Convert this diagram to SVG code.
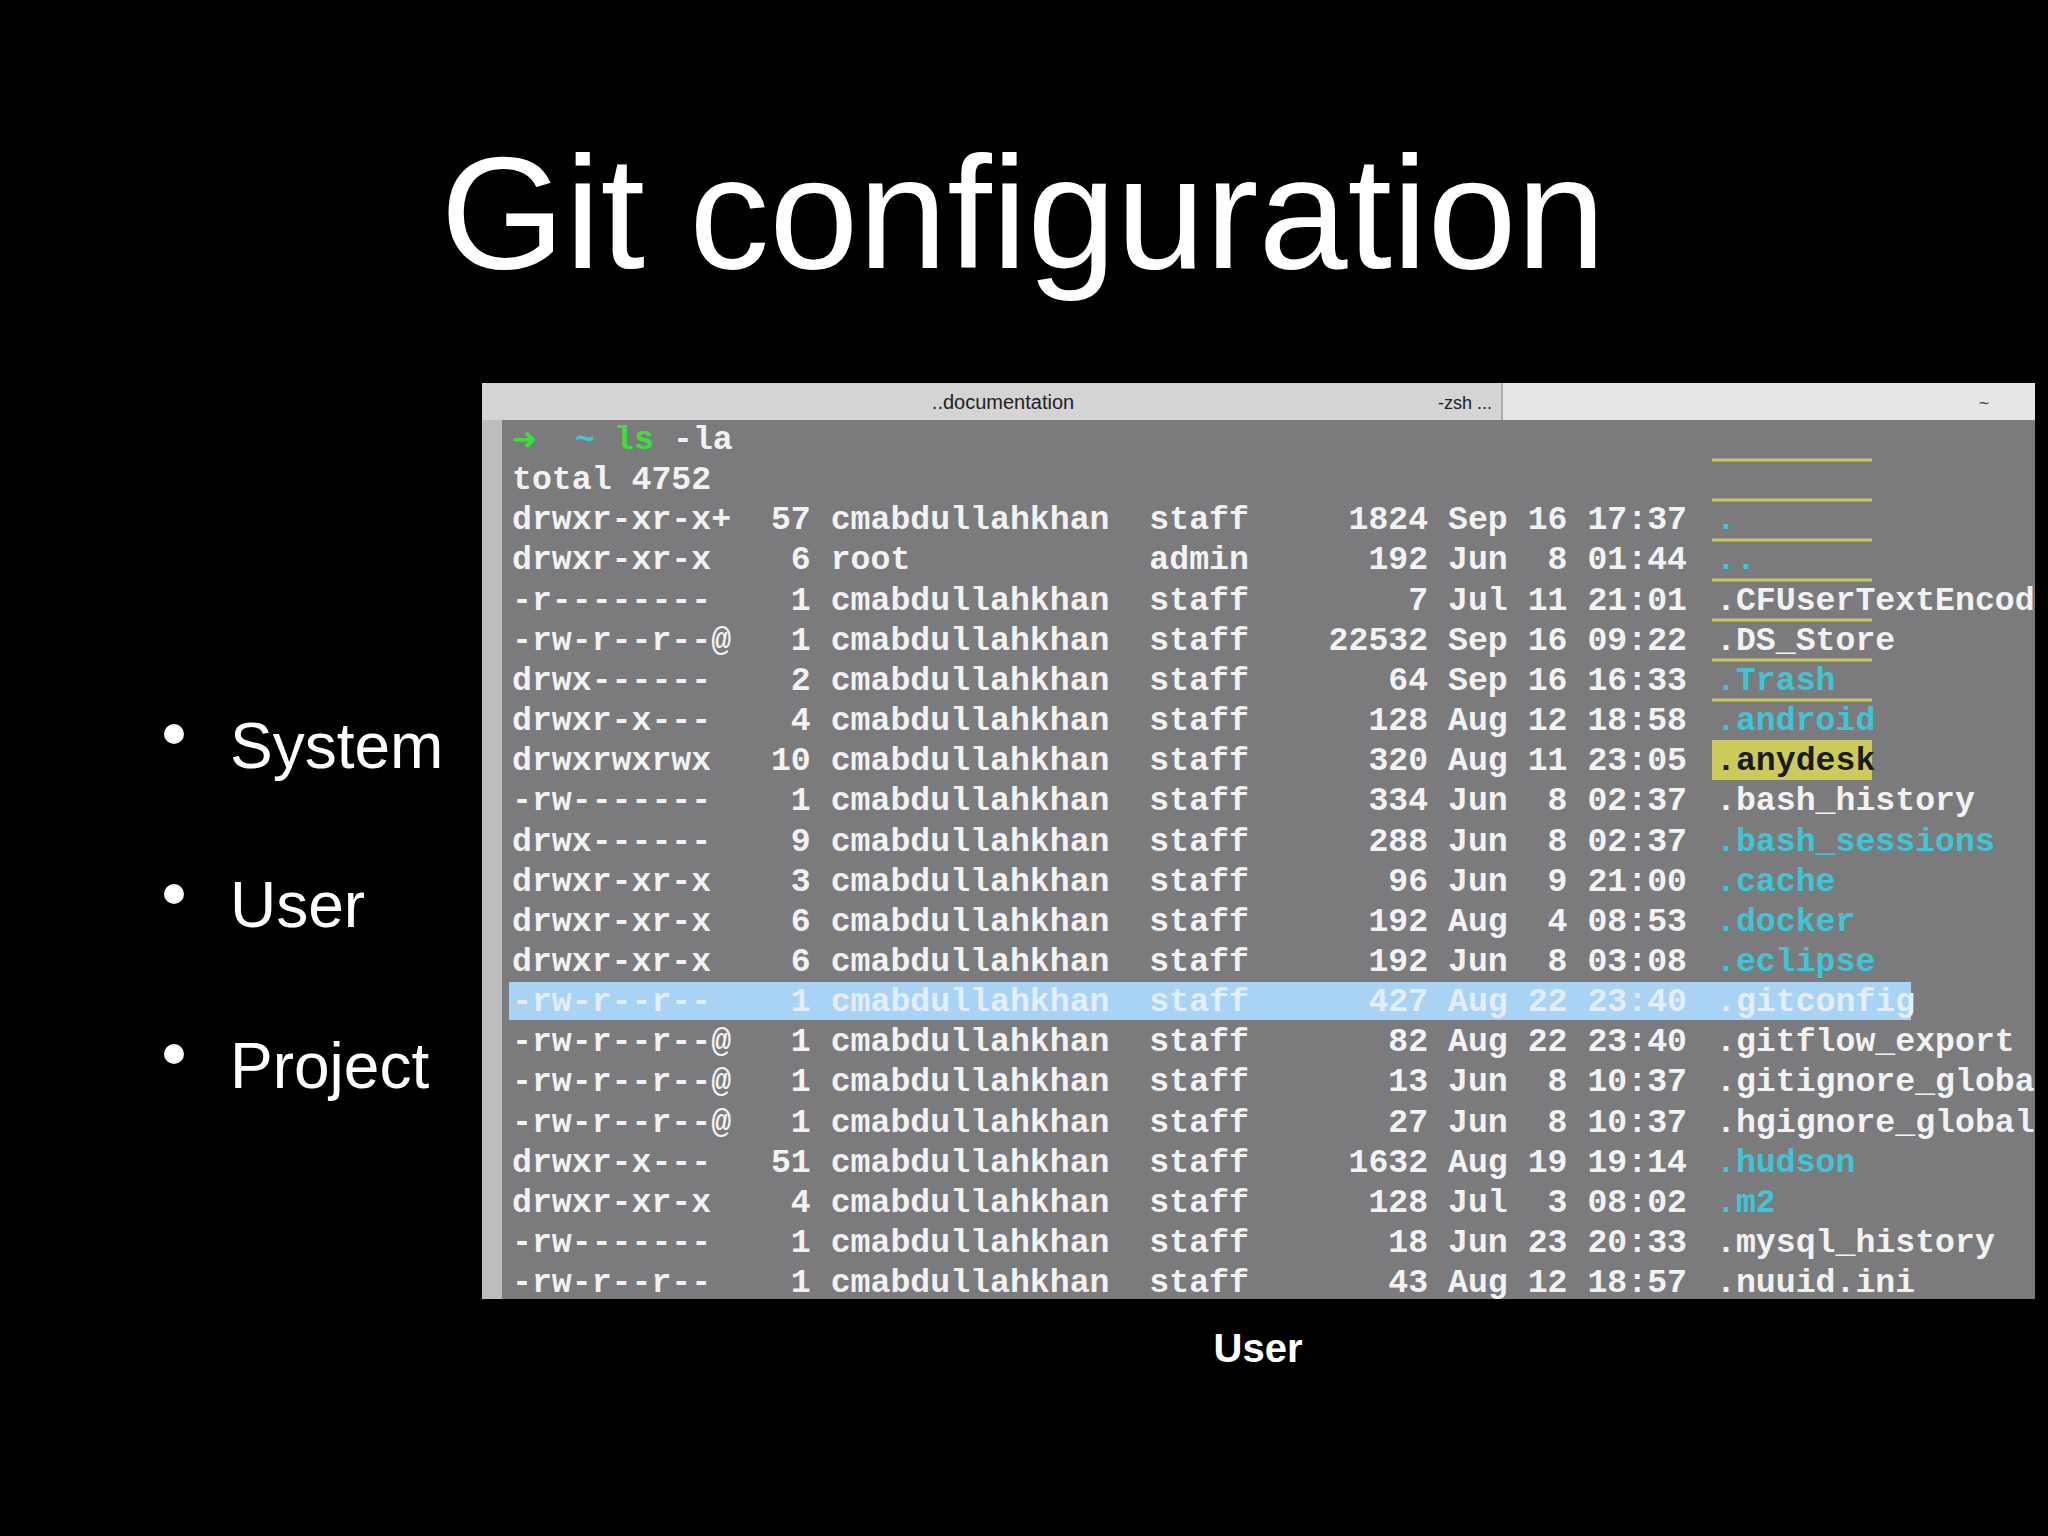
<svg xmlns="http://www.w3.org/2000/svg" width="2048" height="1536" viewBox="0 0 2048 1536">
<defs>
<style>
.t{font-family:"Liberation Mono","Courier New",monospace;font-weight:bold;font-size:33.2px;fill:#f2f2f2;white-space:pre}
.c{fill:#3ec6d6}
.hl{fill:#e4eef8}
.b{font-family:"Liberation Sans",Arial,sans-serif;fill:#fff;font-size:64px}
.yl{stroke:#c9c95e;stroke-width:3}
</style>
<clipPath id="term"><rect x="482" y="383" width="1553" height="916"/></clipPath>
</defs>
<rect width="2048" height="1536" fill="#000"/>
<text x="1023" y="268" text-anchor="middle" font-family="Liberation Sans,Arial,sans-serif" font-size="160" fill="#fff">Git configuration</text>
<g id="bullets">
<circle cx="174" cy="734" r="10" fill="#fff"/><text class="b" x="230" y="768">System</text>
<circle cx="174" cy="894" r="10" fill="#fff"/><text class="b" x="230" y="927">User</text>
<circle cx="174" cy="1054" r="10" fill="#fff"/><text class="b" x="230" y="1088">Project</text>
</g>
<g id="terminal" clip-path="url(#term)">
<rect x="482" y="383" width="1553" height="916" fill="#7b7b7d"/>
<rect x="482" y="383" width="20" height="916" fill="#bdbdbd"/>
<rect x="482" y="383" width="1553" height="37" fill="#d4d4d4"/>
<rect x="1502" y="383" width="533" height="37" fill="#e6e6e6"/>
<line x1="1502" y1="383" x2="1502" y2="420" stroke="#aaa" stroke-width="2"/>
<text x="1003" y="409" text-anchor="middle" font-family="Liberation Sans,Arial,sans-serif" font-size="20" fill="#222">..documentation</text>
<text x="1465" y="409" text-anchor="middle" font-family="Liberation Sans,Arial,sans-serif" font-size="18" fill="#222">-zsh ...</text>
<text x="1984" y="409" text-anchor="middle" font-family="Liberation Sans,Arial,sans-serif" font-size="18" fill="#444">~</text>
<g class="yl">
<line x1="1712" y1="460" x2="1872" y2="460"/><line x1="1712" y1="500" x2="1872" y2="500"/>
<line x1="1712" y1="540" x2="1872" y2="540"/><line x1="1712" y1="580" x2="1872" y2="580"/>
<line x1="1712" y1="620" x2="1872" y2="620"/><line x1="1712" y1="660" x2="1872" y2="660"/>
<line x1="1712" y1="700" x2="1872" y2="700"/>
</g>
<rect x="1712" y="740" width="160" height="40" fill="#cbcb5c"/>
<rect x="509" y="982" width="1402" height="38" fill="#a9d3f5"/>
<text x="512" y="449" font-family="DejaVu Sans,sans-serif" font-size="30" font-weight="bold" fill="#3ce03c">➜</text>
<text class="t" x="575" y="449" style="fill:#3ec6d6">~</text>
<text class="t" x="614" y="449" style="fill:#3ce03c">ls</text>
<text class="t" x="673" y="449">-la</text>
<text class="t" x="512" y="489">total 4752</text>
<text class="t" x="512" y="529">drwxr-xr-x+  57 cmabdullahkhan  staff     1824 Sep 16 17:37</text>
<text class="t" x="512" y="569">drwxr-xr-x    6 root            admin      192 Jun  8 01:44</text>
<text class="t" x="512" y="610">-r--------    1 cmabdullahkhan  staff        7 Jul 11 21:01</text>
<text class="t" x="512" y="650">-rw-r--r--@   1 cmabdullahkhan  staff    22532 Sep 16 09:22</text>
<text class="t" x="512" y="690">drwx------    2 cmabdullahkhan  staff       64 Sep 16 16:33</text>
<text class="t" x="512" y="730">drwxr-x---    4 cmabdullahkhan  staff      128 Aug 12 18:58</text>
<text class="t" x="512" y="770">drwxrwxrwx   10 cmabdullahkhan  staff      320 Aug 11 23:05</text>
<text class="t" x="512" y="810">-rw-------    1 cmabdullahkhan  staff      334 Jun  8 02:37</text>
<text class="t" x="512" y="851">drwx------    9 cmabdullahkhan  staff      288 Jun  8 02:37</text>
<text class="t" x="512" y="891">drwxr-xr-x    3 cmabdullahkhan  staff       96 Jun  9 21:00</text>
<text class="t" x="512" y="931">drwxr-xr-x    6 cmabdullahkhan  staff      192 Aug  4 08:53</text>
<text class="t" x="512" y="971">drwxr-xr-x    6 cmabdullahkhan  staff      192 Jun  8 03:08</text>
<text class="t hl" x="512" y="1011">-rw-r--r--    1 cmabdullahkhan  staff      427 Aug 22 23:40</text>
<text class="t" x="512" y="1051">-rw-r--r--@   1 cmabdullahkhan  staff       82 Aug 22 23:40</text>
<text class="t" x="512" y="1091">-rw-r--r--@   1 cmabdullahkhan  staff       13 Jun  8 10:37</text>
<text class="t" x="512" y="1132">-rw-r--r--@   1 cmabdullahkhan  staff       27 Jun  8 10:37</text>
<text class="t" x="512" y="1172">drwxr-x---   51 cmabdullahkhan  staff     1632 Aug 19 19:14</text>
<text class="t" x="512" y="1212">drwxr-xr-x    4 cmabdullahkhan  staff      128 Jul  3 08:02</text>
<text class="t" x="512" y="1252">-rw-------    1 cmabdullahkhan  staff       18 Jun 23 20:33</text>
<text class="t" x="512" y="1292">-rw-r--r--    1 cmabdullahkhan  staff       43 Aug 12 18:57</text>
<text class="t c" x="1716" y="529">.</text>
<text class="t c" x="1716" y="569">..</text>
<text class="t" x="1716" y="610">.CFUserTextEncod</text>
<text class="t" x="1716" y="650">.DS_Store</text>
<text class="t c" x="1716" y="690">.Trash</text>
<text class="t c" x="1716" y="730">.android</text>
<text class="t" x="1716" y="770" style="fill:#1a1a1a">.anydesk</text>
<text class="t" x="1716" y="810">.bash_history</text>
<text class="t c" x="1716" y="851">.bash_sessions</text>
<text class="t c" x="1716" y="891">.cache</text>
<text class="t c" x="1716" y="931">.docker</text>
<text class="t c" x="1716" y="971">.eclipse</text>
<text class="t hl" x="1716" y="1011">.gitconfig</text>
<text class="t" x="1716" y="1051">.gitflow_export</text>
<text class="t" x="1716" y="1091">.gitignore_globa</text>
<text class="t" x="1716" y="1132">.hgignore_global</text>
<text class="t c" x="1716" y="1172">.hudson</text>
<text class="t c" x="1716" y="1212">.m2</text>
<text class="t" x="1716" y="1252">.mysql_history</text>
<text class="t" x="1716" y="1292">.nuuid.ini</text>
</g>
<text x="1258" y="1362" text-anchor="middle" font-family="Liberation Sans,Arial,sans-serif" font-weight="bold" font-size="40" fill="#fff">User</text>
</svg>
